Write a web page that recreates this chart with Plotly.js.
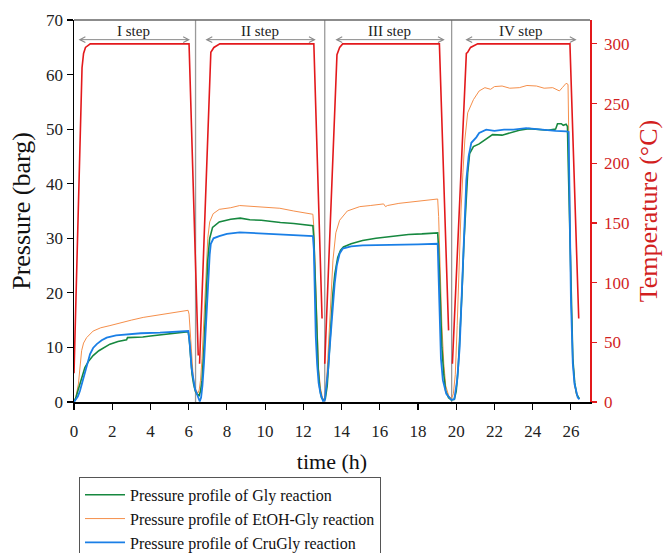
<!DOCTYPE html>
<html>
<head>
<meta charset="utf-8">
<script src="https://cdn.plot.ly/plotly-3.0.1.min.js"></script>
<style>html,body{margin:0;padding:0;background:#fff;}#chart{width:665px;height:553px;}</style>
</head>
<body>
<div id="chart"></div>
<script>
// ---- Data ----
var seriesNames = ["Pressure profile of Gly reaction", "Pressure profile of EtOH-Gly reaction", "Pressure profile of CruGly reaction"];

var tGly = [0,0.1,0.2,0.31,0.45,0.57,0.75,1.0,1.3,1.6,1.88,2.3,2.75,2.8,3.2,3.6,4.0,4.5,5.0,5.5,5.98,6.03,6.1,6.18,6.26,6.35,6.45,6.55,6.62,6.7,6.8,6.9,7.0,7.1,7.25,7.6,8.2,8.7,9.2,9.8,10.4,10.8,11.5,12.0,12.5,12.55,12.62,12.7,12.78,12.86,12.95,13.05,13.15,13.25,13.35,13.45,13.55,13.65,13.8,13.95,14.1,14.5,15.1,15.8,16.87,17.5,18.2,19.03,19.08,19.15,19.25,19.35,19.45,19.6,19.75,19.9,20.0,20.1,20.2,20.3,20.4,20.5,20.6,20.7,20.9,21.2,21.5,21.9,22.4,22.8,23.3,23.8,24.3,24.8,25.2,25.3,25.5,25.6,25.75,25.82,25.86,25.92,26.0,26.1,26.2,26.3,26.4,26.45];
var pGly = [0,0.8,2.0,3.3,5.0,6.3,7.4,8.5,9.4,10.1,10.6,11.1,11.4,11.8,11.8,11.9,12.1,12.3,12.5,12.7,12.9,11.5,8,5,3.3,2.0,1.4,1.2,2,4,10,18,26,30,32,33,33.5,33.7,33.4,33.3,33.0,32.9,32.7,32.5,32.3,30,22,12,6,2.5,0.8,0.3,0.6,3,8.5,15,20,23.5,26.5,27.8,28.4,29.0,29.6,30.0,30.5,30.7,30.8,31.0,28,20,10,5,2,0.8,0.4,0.5,2,6,12,20,29,37,42,45.5,46.8,47.3,48.0,49.0,48.9,49.3,49.8,50.1,49.9,49.8,50.0,51.0,51.0,50.7,50.9,50.5,44,34,20,8,3.5,1.5,0.8,0.6];

var tEtOH = [0,0.1,0.23,0.32,0.4,0.5,0.66,1.0,1.4,1.88,2.5,3.0,3.62,4.3,5.0,5.5,5.97,6.02,6.08,6.15,6.24,6.32,6.4,6.48,6.55,6.62,6.7,6.8,6.9,7.0,7.1,7.28,7.6,8.2,8.67,9.2,9.8,10.77,11.5,12.0,12.5,12.55,12.62,12.7,12.8,12.9,13.0,13.08,13.15,13.25,13.4,13.55,13.7,13.9,14.3,14.95,15.5,16.2,16.3,16.4,17.0,17.7,18.4,19.03,19.08,19.15,19.25,19.35,19.45,19.6,19.75,19.85,19.95,20.05,20.15,20.25,20.35,20.45,20.6,20.9,21.2,21.5,21.8,22.0,22.4,22.8,23.3,23.7,24.2,24.6,25.05,25.25,25.4,25.55,25.75,25.85,25.9,25.96,26.02,26.1,26.2,26.3,26.4];
var pEtOH = [0,1,3.3,6.5,9.4,10.8,11.8,13.0,13.6,14.0,14.6,15.0,15.5,15.9,16.3,16.6,16.8,16.1,13,9.4,4.5,2.6,2.0,1.6,2.2,4,8,16,24,30,33,34.5,35.3,35.6,36.0,35.9,35.8,35.5,35.0,34.7,34.4,32,24,14,6,2.5,0.8,0.4,1.5,6,17,26,31,33.3,35.0,35.8,36.0,36.3,35.8,36.0,36.4,36.7,37.0,37.2,34,25,14,7,3,1.2,0.6,1.5,5,14,25,35,42,48,53,55.4,57.0,57.6,57.3,57.8,57.9,57.5,57.6,58.0,57.9,57.5,57.6,57.3,57.0,57.6,58.4,58.2,45,32,18,8,3,1.2,0.7];

var tCru = [0,0.1,0.2,0.31,0.4,0.49,0.65,0.84,1.0,1.19,1.45,1.71,2.2,2.75,3.5,4.5,5.3,5.98,6.02,6.06,6.15,6.24,6.33,6.41,6.5,6.58,6.65,6.72,6.8,6.9,7.0,7.1,7.16,7.3,7.6,8.0,8.67,9.3,10.0,10.77,11.5,12.0,12.5,12.55,12.6,12.65,12.72,12.8,12.9,13.03,13.12,13.2,13.3,13.38,13.5,13.64,13.75,13.9,14.06,14.5,15.1,16,17,18,19.03,19.07,19.13,19.2,19.3,19.48,19.74,19.9,20.05,20.18,20.35,20.53,20.65,20.79,21.05,21.2,21.57,22.0,22.5,23.0,23.66,24.2,24.7,25.2,25.75,25.88,25.93,26.0,26.1,26.19,26.36,26.45];
var pCru = [0,0.4,1.0,2.0,3.2,4.5,6.8,8.8,9.9,10.6,11.3,11.8,12.2,12.4,12.6,12.7,12.9,13.0,11.8,10.6,6.3,3.9,2.4,1.7,0.6,0.1,0.8,3,7,14,22,27,29.0,30.0,30.4,30.8,31.1,31.0,30.9,30.8,30.6,30.5,30.4,28,19,12,7,3.5,1.5,0.2,0.3,2.5,6,10,16,21.7,25,27.2,28.1,28.5,28.7,28.8,28.9,28.9,29.0,24,14,8,4,1.5,0.4,0.5,4,10,25,40.7,45,47.5,48.5,49.3,49.9,49.7,49.9,49.9,50.2,50.0,49.8,49.7,49.6,49.5,37.6,19.2,7,3.3,0.8,0.5];

var tTemp = [0,0.15,0.3,0.42,0.5,0.6,0.85,6.02,6.5,null,6.57,7.16,7.32,7.63,12.55,12.98,null,13.12,13.76,13.9,14.06,19.12,19.6,null,19.8,20.53,20.6,20.75,21.12,25.95,26.41];
var temp  = [24,110,200,280,292,297,300,300,39,null,32,293,297,300,300,70,null,32,291,297,300,300,60,null,32,292,293,297,300,300,70];

var stepLabels = ["I step", "II step", "III step", "IV step"];
var stepStart = [0.16, 6.8, 13.6, 20.4];
var stepEnd   = [6.07, 12.65, 19.4, 26.3];
var stepSeparators = [6.36, 13.12, 19.76];
var stepArrowP = 66.4;
var stepLabelP = 68.0;

// ---- Chart ----
var serif = "Times New Roman, Liberation Serif, DejaVu Serif, serif";
var red = "#e3191c";

var traces = [
  {x: tEtOH, y: pEtOH, name: seriesNames[1], mode: "lines", line: {color: "#f58f4b", width: 1}, legendrank: 2},
  {x: tGly, y: pGly, name: seriesNames[0], mode: "lines", line: {color: "#16883f", width: 1.6}, legendrank: 1},
  {x: tCru, y: pCru, name: seriesNames[2], mode: "lines", line: {color: "#1a7fe6", width: 1.8}, legendrank: 3},
  {x: tTemp, y: temp, name: "Temperature", yaxis: "y2", mode: "lines", line: {color: red, width: 1.6}, showlegend: false, connectgaps: false}
];

var shapes = [
  {type: "line", xref: "paper", yref: "paper", x0: 0, x1: 1, y0: 1, y1: 1, line: {color: "#666", width: 1.5}}
];
stepSeparators.forEach(function (s) {
  shapes.push({type: "line", xref: "x", yref: "paper", x0: s, x1: s, y0: 0, y1: 1, line: {color: "#9a9a9a", width: 1.3}, layer: "below"});
});

var annotations = [];
stepLabels.forEach(function (lab, i) {
  annotations.push({
    x: stepEnd[i], y: stepArrowP, ax: stepStart[i], ay: stepArrowP,
    xref: "x", yref: "y", axref: "x", ayref: "y",
    text: "", showarrow: true, arrowside: "end+start", arrowhead: 5, arrowsize: 1.1, arrowwidth: 1, arrowcolor: "#8a8a8a"
  });
  annotations.push({
    x: (stepStart[i] + stepEnd[i]) / 2, y: stepLabelP, xref: "x", yref: "y",
    text: lab, showarrow: false, font: {family: serif, size: 15, color: "#222"}, yanchor: "middle"
  });
});

var layout = {
  width: 665, height: 553,
  margin: {l: 74, r: 75, t: 20, b: 151, autoexpand: false},
  paper_bgcolor: "#fff", plot_bgcolor: "#fff",
  font: {family: serif, size: 17, color: "#222"},
  showlegend: true,
  legend: {
    x: 0.0097, y: -0.196, xanchor: "left", yanchor: "top",
    bordercolor: "#555", borderwidth: 1, bgcolor: "#fff",
    font: {family: serif, size: 16, color: "#111"},
    traceorder: "normal", itemwidth: 40
  },
  xaxis: {
    range: [0, 27], dtick: 2, tick0: 0,
    ticks: "outside", ticklen: 6, tickcolor: "#000", tickwidth: 1.2,
    ticklabelstandoff: 7,
    showline: true, linecolor: "#000", linewidth: 1.5,
    showgrid: false, zeroline: false,
    tickfont: {family: serif, size: 17, color: "#222"},
    title: {text: "time (h)", font: {family: serif, size: 22, color: "#111"}, standoff: 13}
  },
  yaxis: {
    range: [0, 70], dtick: 10,
    ticks: "outside", ticklen: 6, tickcolor: "#000", tickwidth: 1.2,
    showline: true, linecolor: "#000", linewidth: 1.5,
    showgrid: false, zeroline: false,
    tickfont: {family: serif, size: 17, color: "#222"},
    title: {text: "Pressure (barg)", font: {family: serif, size: 26, color: "#111"}, standoff: 8}
  },
  yaxis2: {
    range: [0, 320], dtick: 50, overlaying: "y", side: "right", anchor: "x",
    ticks: "outside", ticklen: 5, tickcolor: red, tickwidth: 1.2,
    ticklabelstandoff: 4,
    showline: true, linecolor: red, linewidth: 1.5,
    showgrid: false, zeroline: false,
    tickfont: {family: serif, size: 17, color: "#d21f1f"},
    title: {text: "Temperature (°C)", font: {family: serif, size: 26, color: "#d21f1f"}, standoff: 10}
  },
  shapes: shapes,
  annotations: annotations
};

Plotly.newPlot("chart", traces, layout, {displayModeBar: false, staticPlot: true});
</script>
</body>
</html>
